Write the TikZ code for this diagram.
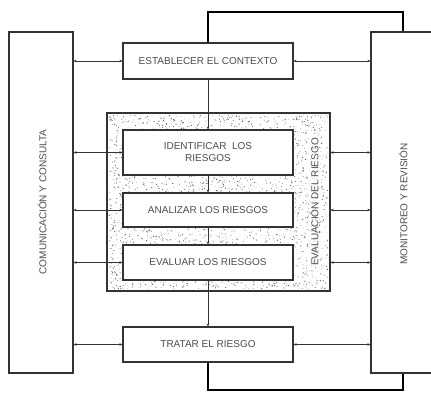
\documentclass[tikz,border=0pt]{standalone}
\usepackage{fontspec}
\setmainfont{Liberation Sans}
\usetikzlibrary{arrows.meta}

\tikzset{
  caja/.style={draw=black!80, line width=1.1pt, fill=white, minimum width=170pt,
    inner sep=0pt, align=center, text=black!70, font=\fontsize{10}{12}\selectfont},
  lateral/.style={draw=black!80, line width=1.1pt, minimum width=64pt, minimum height=341pt,
    inner sep=0pt},
  rotulo/.style={rotate=90, text=black!70, font=\fontsize{10}{12}\selectfont},
  flecha/.style={draw=black!80, line width=0.9pt, {Stealth[length=3pt,width=2.6pt]}-{Stealth[length=3pt,width=2.6pt]}},
  baja/.style={draw=black!80, line width=0.9pt, -{Stealth[length=3pt,width=2.6pt]}},
  lazo/.style={draw=black, line width=2.4pt}
}

\begin{document}
\begin{tikzpicture}[x=1pt,y=1pt]
  \useasboundingbox (0,0) rectangle (431,-395);

  % cajas laterales
  \node[lateral] (comunic) at (41,-202.5) {};
  \node[rotulo] at (42,-202) {COMUNICACIÓN Y CONSULTA};
  \node[lateral, minimum width=70pt] (monitor) at (406,-202.5) {};
  \node[rotulo] at (403,-204) {MONITOREO Y REVISIÓN};

  % evaluacion del riesgo (punteado)
  \node[draw=black!80, line width=1.1pt, minimum width=223pt, minimum height=178pt,
    inner sep=0pt] (evaluacion) at (218.5,-202) {};
  \pgfmathsetseed{31}
  \foreach \i in {1,...,3000} {
    \pgfmathsetmacro\px{109+219*rnd}
    \pgfmathsetmacro\py{-115-174*rnd}
    \pgfmathsetmacro\pr{0.2+0.45*rnd}
    \fill[black!65] (\px,\py) circle (\pr pt);
  }
  \node[rotulo, fill=white, fill opacity=0.5, text opacity=1, inner sep=1pt] at (314,-202) {EVALUACIÓN DEL RIESGO};

  % pasos del proceso
  \node[caja, minimum height=36pt] (contexto) at (208,-61) {ESTABLECER EL CONTEXTO};
  \node[caja, minimum height=45pt] (identif) at (208,-152.5) {IDENTIFICAR\ \ LOS\\RIESGOS};
  \node[caja, minimum height=34pt] (analizar) at (208,-210) {ANALIZAR LOS RIESGOS};
  \node[caja, minimum height=35pt] (evaluar) at (208,-262.5) {EVALUAR LOS RIESGOS};
  \node[caja, minimum height=35pt] (tratar) at (208,-344.5) {TRATAR EL RIESGO};

  % flujo vertical
  \draw[baja] (contexto) -- (identif);
  \draw[baja] (identif) -- (analizar);
  \draw[baja] (analizar) -- (evaluar);
  \draw[baja] (evaluar) -- (tratar);

  % enlaces con comunicacion y consulta
  \foreach \n in {contexto,identif,analizar,evaluar,tratar}
    \draw[flecha] (\n.west -| comunic.east) -- (\n.west);

  % enlaces con monitoreo y revision
  \draw[flecha] (contexto.east) -- (contexto.east -| monitor.west);
  \foreach \n in {identif,analizar,evaluar}
    \draw[flecha] (\n.east -| evaluacion.east) -- (\n.east -| monitor.west);
  \draw[flecha] (tratar.east) -- (tratar.east -| monitor.west);

  % lazos de retroalimentacion
  \coordinate (lazoarriba) at (403,-12);
  \coordinate (lazoabajo) at (403,-390);
  \draw[lazo] (contexto.north) |- (lazoarriba) -- (lazoarriba |- monitor.north);
  \draw[lazo] (tratar.south) |- (lazoabajo) -- (lazoabajo |- monitor.south);
\end{tikzpicture}
\end{document}
